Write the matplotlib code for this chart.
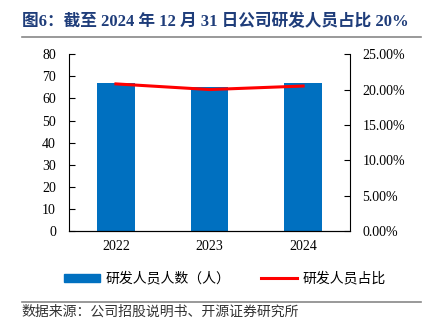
import matplotlib
matplotlib.use("Agg")
from matplotlib import pyplot as plt
from matplotlib.lines import Line2D
from matplotlib.patches import Patch

years = ["2022", "2023", "2024"]
staff = [67, 65, 67]            # 研发人员人数（人）
ratio = [20.8, 20.0, 20.5]      # 研发人员占比 (%)
left_ticks = [0, 10, 20, 30, 40, 50, 60, 70, 80]
right_ticks = [0, 5, 10, 15, 20, 25]

num_font = ["Liberation Serif", "Noto Sans CJK SC"]
cjk_font = ["Noto Sans CJK SC", "DejaVu Sans"]
plt.rcParams["font.family"] = num_font

fig = plt.figure(figsize=(4.32, 3.30), dpi=100)
ax = fig.add_axes([0.16, 0.299, 0.65, 0.537])
x = list(range(len(years)))
ax.bar(x, staff, width=0.4, color="#0070C0", zorder=2)
ax.set_xlim(-0.5, 2.5)
ax.set_ylim(0, 80)
ax.set_yticks(left_ticks)
ax.set_xticks(x)
ax.set_xticklabels(years)
ax.tick_params(axis="y", direction="in", length=4, labelsize=10, pad=9.5, colors="black")
ax.tick_params(axis="x", length=0, labelsize=10, pad=6)
ax.spines["top"].set_visible(False)
ax.spines["right"].set_visible(False)

ax2 = ax.twinx()
ax2.plot(x, ratio, color="#FF0000", linewidth=2.2, zorder=3)
ax2.set_ylim(0, 25)
ax2.set_yticks(right_ticks)
ax2.set_yticklabels([f"{v:.2f}%" for v in right_ticks])
ax2.tick_params(axis="y", direction="in", length=4, labelsize=10, pad=9)
ax2.spines["top"].set_visible(False)
ax2.spines["left"].set_visible(False)

# title and rules
fig.text(0.05, 0.935, "图6：截至 2024 年 12 月 31 日公司研发人员占比 20%",
         fontsize=12, fontweight="bold", color="#1F3D7A", family=num_font, va="center")
fig.add_artist(Line2D([0.05, 0.975], [0.888, 0.888], color="#888888", linewidth=1.2))
fig.add_artist(Line2D([0.05, 0.975], [0.085, 0.085], color="#888888", linewidth=1.2))
fig.text(0.05, 0.055, "数据来源：公司招股说明书、开源证券研究所",
         fontsize=10, family=cjk_font, va="center", color="#333333")

handles = [Patch(color="#0070C0"), Line2D([], [], color="#FF0000", linewidth=2.2)]
fig.legend(handles, ["研发人员人数（人）", "研发人员占比"], loc="center",
           bbox_to_anchor=(0.52, 0.155), ncol=2, frameon=False,
           prop={"family": cjk_font, "size": 10}, handlelength=2.6,
           handleheight=0.6, columnspacing=2.2, handletextpad=0.4)

fig.savefig("out.png", dpi=100)
